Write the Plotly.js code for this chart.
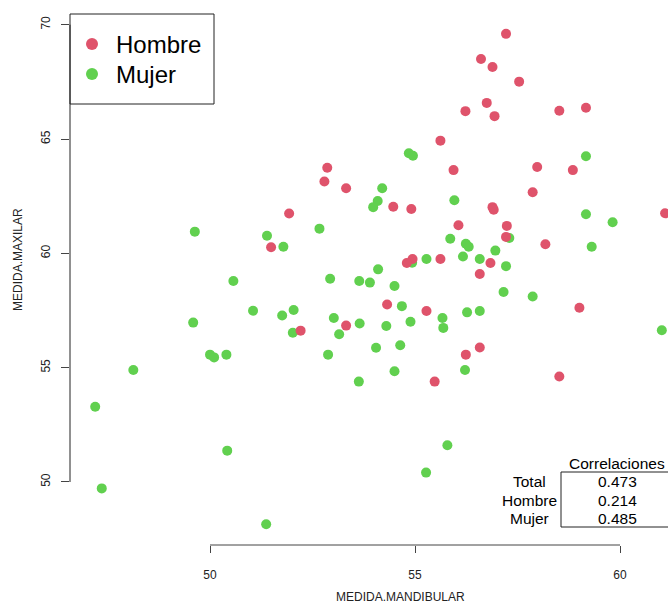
<!DOCTYPE html>
<html>
<head>
<meta charset="utf-8">
<script src="https://cdn.plot.ly/plotly-3.0.1.min.js"></script>
<style>html,body{margin:0;padding:0;background:#fff;}#chart{width:668px;height:604px;}</style>
</head>
<body>
<div id="chart"></div>
<script>
// Hombre (red)
const hombreX = [55.62,55.94,52.86,52.79,53.32,57.22,56.61,56.89,57.54,56.75,56.23,56.94,58.52,59.17,57.98,58.85,54.47,54.91,51.93,56.06,51.49,54.94,54.80,55.62,54.32,55.28,53.32,52.21,55.48,57.87,56.89,56.92,61.10,57.24,57.22,58.18,56.84,56.58,59.01,56.58,56.24,58.52];
const hombreY = [64.93,63.64,63.74,63.14,62.85,69.60,68.50,68.15,67.51,66.58,66.22,66.00,66.24,66.37,63.78,63.64,62.04,61.94,61.74,61.23,60.27,59.75,59.58,59.75,57.76,57.48,56.84,56.62,54.39,62.67,62.02,61.91,61.75,61.20,60.72,60.40,59.58,59.10,57.62,55.88,55.57,54.61];
// Mujer (green)
const mujerX = [54.85,54.95,54.20,59.17,49.63,50.57,51.05,49.59,50.00,50.10,50.40,48.13,47.20,50.42,47.36,54.09,53.98,55.96,52.67,51.39,51.79,55.86,54.93,55.28,54.10,52.93,53.64,53.90,54.50,51.76,52.04,54.68,55.67,55.69,53.02,54.89,53.65,54.30,52.02,53.15,54.05,54.64,52.88,54.50,53.63,55.79,55.27,51.37,59.17,59.82,57.30,56.24,56.31,56.96,59.31,56.17,56.58,57.22,57.16,57.87,56.27,56.58,61.02,56.22];
const mujerY = [64.38,64.27,62.85,64.25,60.95,58.79,57.49,56.97,55.57,55.45,55.57,54.90,53.29,51.37,49.72,62.29,62.02,62.32,61.08,60.77,60.29,60.64,59.59,59.75,59.30,58.89,58.79,58.72,58.57,57.28,57.52,57.69,57.17,56.74,57.17,57.01,56.93,56.82,56.53,56.46,55.87,55.98,55.57,54.84,54.39,51.61,50.41,48.15,61.71,61.36,60.67,60.42,60.29,60.12,60.29,59.86,59.75,59.44,58.31,58.11,57.42,57.48,56.64,54.90];

const xTicks = [50, 55, 60];
const yTicks = [50, 55, 60, 65, 70];
const legendNames = ['Hombre', 'Mujer'];
const tableTitle = 'Correlaciones';
const tableLabels = ['Total', 'Hombre', 'Mujer'];
const tableValues = ['0.473', '0.214', '0.485'];

const RED = '#DF536B', GREEN = '#61D04F';
const legendColors = [RED, GREEN];
const W = 668, H = 604, ML = 70, MB = 59, MT = 0, MR = 0;
const PW = W - ML - MR, PH = H - MT - MB;
const px2x = p => (p - ML) / PW;
const py2y = p => (H - MB - p) / PH;

const traces = [
  {type:'scatter', mode:'markers', name:'Mujer', x:mujerX, y:mujerY,
   marker:{color:GREEN, size:10}},
  {type:'scatter', mode:'markers', name:'Hombre', x:hombreX, y:hombreY,
   marker:{color:RED, size:10}}
];

const font = {family:'"Liberation Sans", Arial, sans-serif', color:'#000'};
const annotations = [
  {text:'MEDIDA.MANDIBULAR', xref:'paper', yref:'paper', x:px2x(400), y:py2y(597),
   xanchor:'center', yanchor:'middle', showarrow:false, font:Object.assign({}, font, {size:12, color:'#222'})},
  {text:'MEDIDA.MAXILAR', xref:'paper', yref:'paper', x:px2x(18), y:py2y(260),
   xanchor:'center', yanchor:'middle', textangle:-90, showarrow:false, font:Object.assign({}, font, {size:12, color:'#222'})},
  {text:tableTitle, xref:'paper', yref:'paper', x:px2x(617), y:py2y(463),
   xanchor:'center', yanchor:'middle', showarrow:false, font:Object.assign({}, font, {size:15.5})}
];
const rowY = [482, 500, 518];
tableLabels.forEach((t, i) => {
  annotations.push({text:t, xref:'paper', yref:'paper', x:px2x(529), y:py2y(rowY[i]),
    xanchor:'center', yanchor:'middle', showarrow:false, font:Object.assign({}, font, {size:15.5})});
  annotations.push({text:tableValues[i], xref:'paper', yref:'paper', x:px2x(617), y:py2y(rowY[i]),
    xanchor:'center', yanchor:'middle', showarrow:false, font:Object.assign({}, font, {size:15.5})});
});

const shapes = [
  {type:'line', xref:'x', yref:'paper', x0:xTicks[0], x1:xTicks[xTicks.length-1], y0:0, y1:0,
   line:{color:'#444', width:1}},
  {type:'line', xref:'paper', yref:'y', x0:0, x1:0, y0:yTicks[0], y1:yTicks[yTicks.length-1],
   line:{color:'#222', width:1}},
  {type:'rect', xref:'paper', yref:'paper', x0:px2x(70), x1:px2x(214), y0:py2y(104), y1:py2y(14),
   line:{color:'#222', width:1}, fillcolor:'rgba(0,0,0,0)'},
  {type:'rect', xref:'paper', yref:'paper', x0:px2x(561), x1:px2x(700), y0:py2y(527), y1:py2y(472),
   line:{color:'#222', width:1}, fillcolor:'rgba(0,0,0,0)'}
];

// manual legend
const legRowY = [44, 74];
legendNames.forEach((n, i) => {
  shapes.push({type:'circle', xref:'paper', yref:'paper', xsizemode:'pixel', ysizemode:'pixel',
    xanchor:px2x(92), yanchor:py2y(legRowY[i]), x0:-6, x1:6, y0:-6, y1:6,
    fillcolor:legendColors[i], line:{width:0}});
  annotations.push({text:n, xref:'paper', yref:'paper', x:px2x(114), y:py2y(legRowY[i]),
    xanchor:'left', yanchor:'middle', showarrow:false, font:Object.assign({}, font, {size:24})});
});

const layout = {
  width:W, height:H,
  margin:{l:ML, r:MR, t:MT, b:MB, pad:0},
  paper_bgcolor:'#fff', plot_bgcolor:'#fff',
  showlegend:false,
  xaxis:{range:[50 - (210 - ML) / 41, 50 + (W - MR - 210) / 41], tickvals:xTicks, ticktext:xTicks.map(String),
    ticks:'outside', ticklen:7, tickcolor:'#444', tickwidth:1, showgrid:false, zeroline:false, showline:false,
    tickfont:Object.assign({}, font, {size:12, color:'#222'}), ticklabelstandoff:12},
  yaxis:{range:[50 - (545 - 482) / 22.86, 70 + (24.7 - MT) / 22.86], tickvals:yTicks, ticktext:yTicks.map(String),
    ticks:'outside', ticklen:8, tickcolor:'#444', tickwidth:1, showgrid:false, zeroline:false, showline:false,
    tickangle:-90, tickfont:Object.assign({}, font, {size:12, color:'#222'}), ticklabelstandoff:6},
  annotations:annotations,
  shapes:shapes
};

Plotly.newPlot('chart', traces, layout, {displayModeBar:false, staticPlot:true});
</script>
</body>
</html>
